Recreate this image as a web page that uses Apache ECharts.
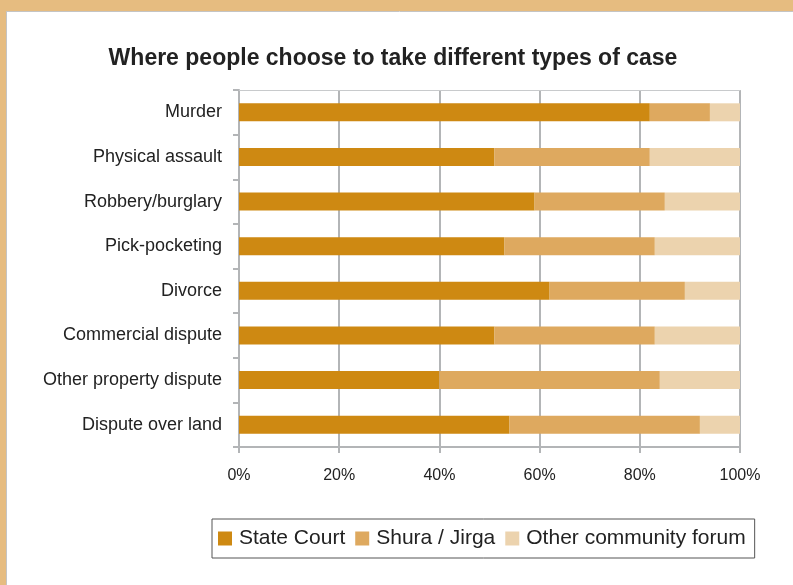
<!DOCTYPE html>
<html>
<head>
<meta charset="utf-8">
<script src="https://cdn.jsdelivr.net/npm/echarts@6/dist/echarts.min.js"></script>
<style>
  html, body { margin: 0; padding: 0; background: #fff; }
  #chart { width: 793px; height: 585px; }
</style>
</head>
<body>
<div id="chart"></div>
<script>
// Case types, listed top to bottom
const categories = [
  'Murder', 'Physical assault', 'Robbery/burglary', 'Pick-pocketing',
  'Divorce', 'Commercial dispute', 'Other property dispute', 'Dispute over land'
];
// Share of cases taken to each forum (%)
const stateCourt = [82, 51, 59, 53, 62, 51, 40, 54];
const shuraJirga = [12, 31, 26, 30, 27, 32, 44, 38];
const otherForum = [6, 18, 15, 17, 11, 17, 16, 8];
const xTicks = [0, 20, 40, 60, 80, 100];

const seriesNames = ['State Court', 'Shura / Jirga', 'Other community forum'];
const seriesColors = ['#CE8912', '#DEA95F', '#ECD3AE'];
const seriesData = [stateCourt, shuraJirga, otherForum];

const font = '"Liberation Sans", Arial, sans-serif';
const axisGray = '#B3B5B7';
const chart = echarts.init(document.getElementById('chart'));

chart.setOption({
  animation: false,
  textStyle: { fontFamily: font },
  graphic: [
    // tan frame along top and left edges
    { type: 'rect', shape: { x: 0, y: 0, width: 793, height: 11 }, style: { fill: '#E6BC80' }, z: 10 },
    { type: 'rect', shape: { x: 0, y: 0, width: 6, height: 585 }, style: { fill: '#E6BC80' }, z: 10 },
    { type: 'line', shape: { x1: 6, y1: 11.5, x2: 793, y2: 11.5 }, style: { stroke: '#C4C4C4', lineWidth: 1 }, z: 10 },
    { type: 'line', shape: { x1: 6.5, y1: 11, x2: 6.5, y2: 585 }, style: { stroke: '#C4C4C4', lineWidth: 1 }, z: 10 }
  ],
  title: {
    text: 'Where people choose to take different types of case',
    left: 388,
    textAlign: 'center',
    top: 42,
    textStyle: { fontFamily: font, fontSize: 23, fontWeight: 'bold', color: '#222' }
  },
  legend: {
    data: seriesNames,
    left: 212,
    top: 519,
    padding: [9, 9, 9, 6],
    borderColor: '#555',
    borderWidth: 1,
    itemWidth: 14,
    itemHeight: 14,
    itemGap: 10,
    icon: 'rect',
    textStyle: { fontFamily: font, fontSize: 21, color: '#222', padding: [0, 0, 0, 2] }
  },
  grid: { left: 239, right: 53, top: 90, bottom: 138, containLabel: false },
  xAxis: [{
    type: 'value',
    min: xTicks[0],
    max: xTicks[xTicks.length - 1],
    interval: xTicks[1] - xTicks[0],
    axisLine: { show: true, lineStyle: { color: axisGray, width: 2 } },
    axisTick: { show: true, length: 6, lineStyle: { color: axisGray, width: 2 } },
    splitLine: { show: true, lineStyle: { color: axisGray, width: 2 } },
    axisLabel: { formatter: '{value}%', fontSize: 16, color: '#222', margin: 21, fontFamily: font }
  }, {
    // thin frame line along the top of the plot
    type: 'value',
    position: 'top',
    min: xTicks[0],
    max: xTicks[xTicks.length - 1],
    axisLine: { show: true, lineStyle: { color: '#C8CACC', width: 1 } },
    axisTick: { show: false },
    axisLabel: { show: false },
    splitLine: { show: false }
  }],
  yAxis: {
    type: 'category',
    data: categories,
    inverse: true,
    axisLine: { show: true, lineStyle: { color: axisGray, width: 2 } },
    axisTick: { show: true, length: 6, lineStyle: { color: axisGray, width: 2 } },
    axisLabel: { fontSize: 18, color: '#222', margin: 17, fontFamily: font }
  },
  series: seriesData.map((d, i) => ({
    name: seriesNames[i],
    type: 'bar',
    stack: 'total',
    barWidth: 18,
    xAxisIndex: 0,
    data: d,
    itemStyle: { color: seriesColors[i] }
  }))
});
</script>
</body>
</html>
